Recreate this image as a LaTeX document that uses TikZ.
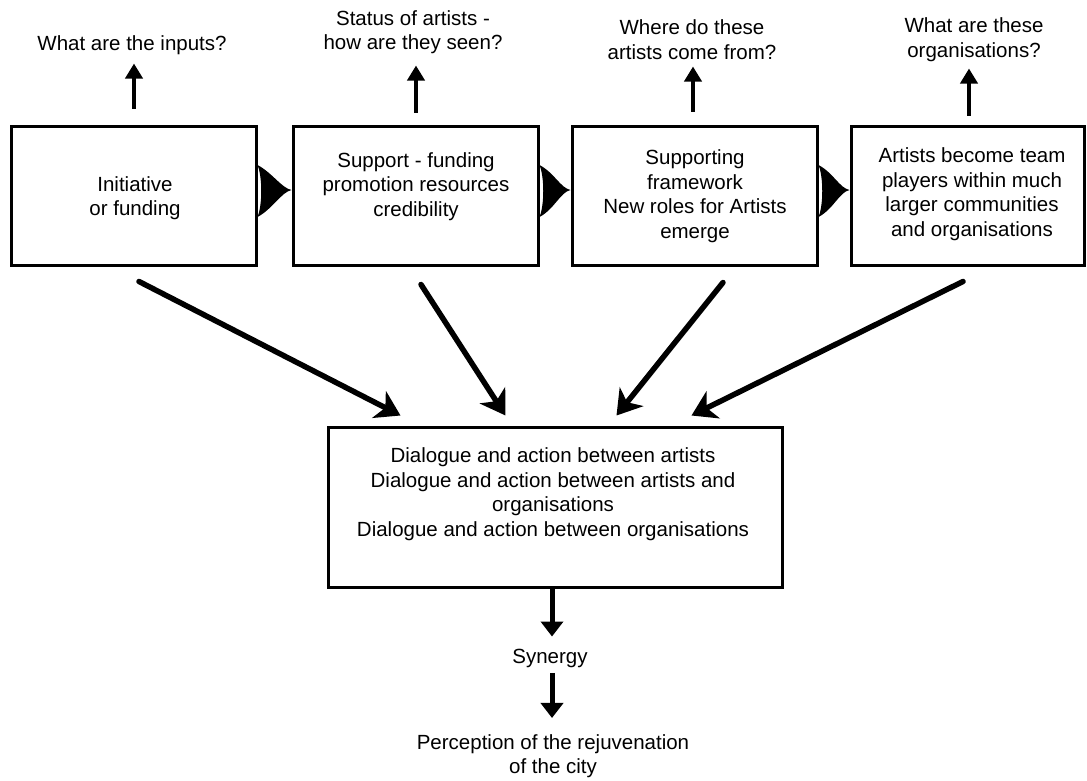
\documentclass[tikz,border=0pt]{standalone}
\usepackage{fontspec}
\setmainfont{Liberation Sans}
\usetikzlibrary{arrows.meta,calc}
% filled wedge joining two neighbouring boxes
\newcommand\chevron[2]{%
  \fill ($(#1.east)+(0,-30.5)$)
    .. controls ($(#1.east)+(15,-22.5)$) and ($(#2.west)+(-10,-7.5)$) .. ($(#2.west)+(0,-5.5)$)
    .. controls ($(#2.west)+(-10,-3.5)$) and ($(#1.east)+(15,13.5)$) .. ($(#1.east)+(0,21.5)$)
    .. controls ($(#1.east)+(5,9.5)$) and ($(#1.east)+(5,-18.5)$) .. ($(#1.east)+(0,-30.5)$) -- cycle;}
\begin{document}
\begin{tikzpicture}[x=1pt,y=-1pt,
  box/.style={draw, line width=3pt, inner sep=0pt, minimum height=139pt},
  txt/.style={align=center, inner sep=0pt, font=\fontsize{20.5}{24.5}\selectfont},
  uparrow/.style={line width=4pt, -{Triangle[length=15pt,width=17pt]}},
  downarrow/.style={line width=5pt, -{Triangle[length=15pt,width=22pt]}},
  diag/.style={line width=5.5pt, line cap=round, -{Stealth[length=24pt,width=30pt,inset=7pt]}}
]
\useasboundingbox (0,0) rectangle (1087,780);

% boxes
\node[box, minimum width=245pt] (b1) at (133.5,195.5) {};
\node[box, minimum width=245pt] (b2) at (415.5,195.5) {};
\node[box, minimum width=245pt] (b3) at (694.5,195.5) {};
\node[box, minimum width=233pt] (b4) at (967.5,195.5) {};
\node[box, minimum width=454pt, minimum height=160pt] (mid) at (555,507) {};

% texts inside the boxes
\node[txt] (t1) at (135,198) {Initiative\\or funding};
\node[txt] (t2) at (416,186.5) {Support - funding\\promotion resources\\credibility};
\node[txt] (t3) at (695,196) {Supporting\\framework\\New roles for Artists\\emerge};
\node[txt] (t4) at (972,194) {Artists become team\\players within much\\larger communities\\and organisations};
\node[txt] (tm) at (553,494) {Dialogue and action between artists\\Dialogue and action between artists and\\organisations\\Dialogue and action between organisations};

% questions above
\node[txt] (l1) at (132,45) {What are the inputs?};
\node[txt] (l2) at (413,32) {Status of artists -\\how are they seen?};
\node[txt] (l3) at (692,39.5) {Where do these\\artists come from?};
\node[txt] (l4) at (974,39.5) {What are these\\organisations?};

% outcomes below
\node[txt] (syn) at (550,658) {Synergy};
\node[txt] (per) at (553,756) {Perception of the rejuvenation\\of the city};

% wedges between the boxes
\chevron{b1}{b2}
\chevron{b2}{b3}
\chevron{b3}{b4}

% arrows up to the questions
\draw[uparrow] ($(b1.north)+(0.5,-16)$) -- ($(b1.north)+(0.5,-61)$);
\draw[uparrow] ($(b2.north)+(0.5,-12)$) -- ($(b2.north)+(0.5,-59)$);
\draw[uparrow] ($(b3.north)+(-1.5,-13)$) -- ($(b3.north)+(-1.5,-58)$);
\draw[uparrow] ($(b4.north)+(1.5,-9)$) -- ($(b4.north)+(1.5,-56)$);

% converging arrows
\coordinate (s1) at ($(b1.south)+(5.5,15)$);
\coordinate (s2) at ($(b2.south)+(5.5,18)$);
\coordinate (s3) at ($(b3.south)+(28.5,16)$);
\coordinate (s4) at ($(b4.south)+(-4.5,15)$);
\coordinate (e1) at ($(mid.north west)+(74,-10)$);
\coordinate (e2) at ($(mid.north west)+(179,-10)$);
\coordinate (e3) at ($(mid.north west)+(290,-10)$);
\coordinate (e4) at ($(mid.north west)+(365,-10)$);
\draw[diag] (s1) -- (e1);
\draw[diag] (s2) -- (e2);
\draw[diag] (s3) -- (e3);
\draw[diag] (s4) -- (e4);

% arrows down to the outcomes
\coordinate (d1) at ($(mid.south)+(-3,48)$);
\draw[downarrow] ($(mid.south)+(-3,0)$) -- (d1);
\coordinate (d2) at ($(syn.south)+(2,50.5)$);
\draw[downarrow] ($(syn.south)+(2,5.5)$) -- (d2);
\end{tikzpicture}
\end{document}
